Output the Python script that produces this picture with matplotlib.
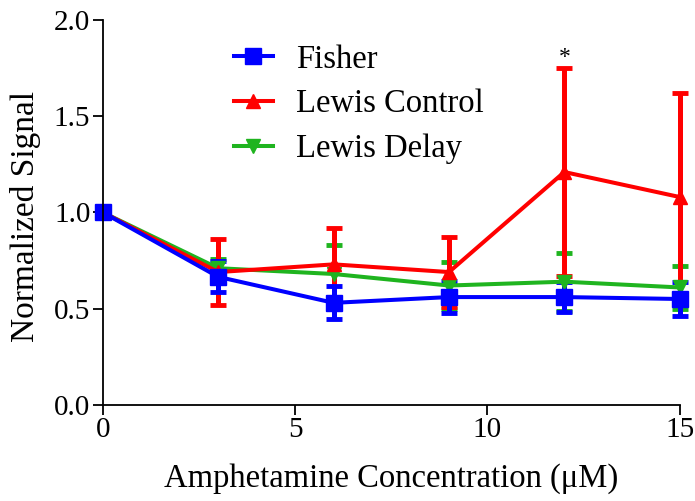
import matplotlib.pyplot as plt
from matplotlib.lines import Line2D

plt.rcParams["font.family"] = ["Liberation Serif", "DejaVu Serif"]

# Amphetamine dose (uM) and normalized signal per strain
conc = [0, 3, 6, 9, 12, 15]

fisher = [1.0, 0.665, 0.53, 0.56, 0.56, 0.55]
fisher_err = [0.0, 0.08, 0.085, 0.085, 0.08, 0.09]

lewis_control = [1.0, 0.69, 0.73, 0.69, 1.21, 1.08]
lewis_control_err = [0.0, 0.17, 0.19, 0.18, 0.54, 0.54]

lewis_delay = [1.0, 0.71, 0.68, 0.62, 0.64, 0.61]
lewis_delay_err = [0.0, 0.05, 0.15, 0.12, 0.15, 0.11]

blue, red, green = "#0000ff", "#ff0000", "#1fb41f"

fig = plt.figure(figsize=(6.95, 5.01), dpi=100)
ax = fig.add_axes([0.148, 0.192, 0.83, 0.768])

common = dict(linewidth=2.9, elinewidth=3.6, capsize=5.8, capthick=3.5, clip_on=False)
ax.errorbar(conc, lewis_delay, yerr=lewis_delay_err, color=green,
            marker="v", markersize=10, **common)
ax.errorbar(conc, lewis_control, yerr=lewis_control_err, color=red,
            marker="^", markersize=10, **common)
ax.errorbar(conc, fisher, yerr=fisher_err, color=blue,
            marker="s", markersize=11, **common)

# significance marker above the 12 uM point
ax.text(12, 1.75, "*", ha="center", va="bottom", fontsize=17)

ax.set_xlim(0, 15)
ax.set_ylim(0, 2.0)
ax.set_xticks([0, 5, 10, 15])
ax.set_yticks([0.0, 0.5, 1.0, 1.5, 2.0])
ax.set_yticklabels(["0.0", "0.5", "1.0", "1.5", "2.0"])
ax.spines["top"].set_visible(False)
ax.spines["right"].set_visible(False)
ax.spines["left"].set_linewidth(1.3)
ax.spines["bottom"].set_linewidth(1.3)
ax.tick_params(direction="out", length=7, width=1.3, labelsize=21, pad=2)

ax.set_xlabel("Amphetamine Concentration (\u03bcM)", fontsize=23.5, labelpad=14)
ax.set_ylabel("Normalized Signal", fontsize=24)
ax.yaxis.set_label_coords(-0.108, 0.49)

handles = [
    Line2D([], [], color=blue, marker="s", markersize=11, linewidth=2.9),
    Line2D([], [], color=red, marker="^", markersize=10, linewidth=2.9),
    Line2D([], [], color=green, marker="v", markersize=10, linewidth=2.9),
]
ax.legend(handles, ["Fisher", "Lewis Control", "Lewis Delay"],
          loc="upper left", bbox_to_anchor=(0.176, 1.014), frameon=False,
          fontsize=23.5, handlelength=1.2, handletextpad=0.7, labelspacing=0.44)

fig.savefig("out.png", dpi=100)
